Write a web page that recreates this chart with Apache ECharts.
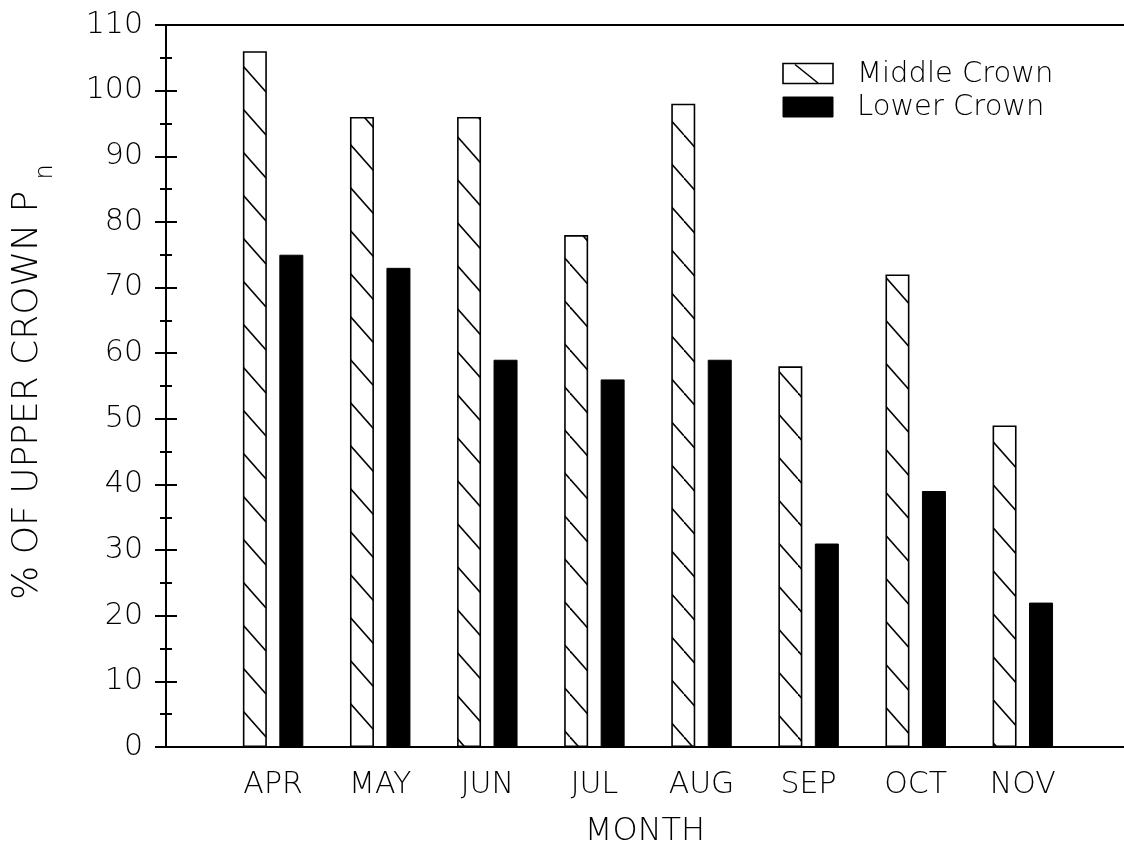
<!DOCTYPE html>
<html>
<head>
<meta charset="utf-8">
<script src="https://cdn.jsdelivr.net/npm/echarts@6/dist/echarts.min.js"></script>
<style>
  html, body { margin: 0; padding: 0; background: #fff; }
  #chart { width: 1124px; height: 853px; }
</style>
</head>
<body>
<div id="chart"></div>
<script>
// Monthly photosynthesis of middle and lower crown, relative to the upper crown
const months = ['APR', 'MAY', 'JUN', 'JUL', 'AUG', 'SEP', 'OCT', 'NOV'];
const middleCrown = [106, 96, 96, 78, 98, 58, 72, 49];
const lowerCrown = [75, 73, 59, 56, 59, 31, 39, 22];
const yMin = 0, yMax = 110, yStep = 10;
const seriesNames = ['Middle Crown', 'Lower Crown'];

const FONT = 'DejaVu Sans';
const INK = '#000';

// Repeating tile with "\" diagonal hatching for the middle crown bars
function hatchTile() {
  const w = 38, h = 43, c = 6;
  const cv = document.createElement('canvas');
  cv.width = w; cv.height = h;
  const ctx = cv.getContext('2d');
  ctx.fillStyle = '#fff';
  ctx.fillRect(0, 0, w, h);
  ctx.strokeStyle = INK;
  ctx.lineWidth = 1.6;
  for (let k = -1; k <= 1; k++) {
    ctx.beginPath();
    ctx.moveTo(0, c + k * h);
    ctx.lineTo(w, c + h + k * h);
    ctx.stroke();
  }
  return cv;
}

const chart = echarts.init(document.getElementById('chart'), null, { renderer: 'canvas' });

const gridLeft = 166, gridRight = 0, gridTop = 25, gridBottom = 105.5;
const slot = 107.1;
const xMax = (1124 - gridLeft - gridRight) / slot;
const positions = months.map((m, i) => i + 1);

function yAxisBase(inside) {
  return {
    type: 'value',
    min: yMin, max: yMax, interval: yStep,
    position: 'left',
    axisLine: { show: !inside, lineStyle: { color: INK, width: 2 } },
    axisTick: { show: true, inside: inside, length: 11, lineStyle: { color: INK, width: 2 } },
    minorTick: { show: true, splitNumber: 2, length: 6, lineStyle: { color: INK, width: 2 } },
    splitLine: { show: false },
    minorSplitLine: { show: false },
    axisLabel: {
      show: !inside, fontSize: 30, fontFamily: FONT, fontWeight: 200,
      color: INK, margin: 23
    }
  };
}

chart.setOption({
  animation: false,
  backgroundColor: '#fff',
  grid: { left: gridLeft, right: gridRight, top: gridTop, bottom: gridBottom },
  xAxis: {
    type: 'value', min: 0, max: xMax,
    axisLine: { show: true, onZero: false, lineStyle: { color: INK, width: 2 } },
    axisTick: { show: false },
    splitLine: { show: false },
    axisLabel: {
      customValues: positions,
      formatter: v => months[Math.round(v) - 1] || '',
      fontSize: 30, fontFamily: FONT, fontWeight: 200, color: INK, margin: 23
    },
    name: 'MONTH',
    nameLocation: 'middle',
    nameGap: 69,
    nameTextStyle: { fontSize: 32, fontFamily: FONT, fontWeight: 200, color: INK }
  },
  yAxis: [yAxisBase(false), yAxisBase(true)],
  series: [
    {
      type: 'bar', name: seriesNames[0], silent: true,
      data: middleCrown.map((v, i) => [positions[i], v]),
      barWidth: 24, barGap: '52%',
      itemStyle: { color: { image: hatchTile(), repeat: 'repeat' }, borderColor: INK, borderWidth: 1.6 },
      emphasis: { disabled: true }
    },
    {
      type: 'bar', name: seriesNames[1], silent: true,
      data: lowerCrown.map((v, i) => [positions[i], v]),
      barWidth: 24, barGap: '52%',
      itemStyle: { color: INK, borderColor: INK, borderWidth: 1 },
      emphasis: { disabled: true }
    }
  ]
});

// Frame lines, y-axis title and legend
const yTopPx = chart.convertToPixel({ yAxisIndex: 0 }, yMax);
const yZeroPx = chart.convertToPixel({ yAxisIndex: 0 }, yMin);
const lineStyle = { stroke: INK, lineWidth: 2 };
const legendText = { fontSize: 29, fontFamily: FONT, fontWeight: 200, fill: INK, verticalAlign: 'middle', align: 'left' };

chart.setOption({
  graphic: [
    { type: 'line', silent: true, shape: { x1: 155, y1: yTopPx, x2: 1124, y2: yTopPx }, style: lineStyle },
    { type: 'line', silent: true, shape: { x1: 155, y1: yZeroPx, x2: gridLeft, y2: yZeroPx }, style: lineStyle },
    {
      type: 'text', silent: true, x: 28, y: 600, rotation: Math.PI / 2,
      style: { text: '% OF UPPER CROWN P', fontSize: 36, fontFamily: FONT, fontWeight: 200, fill: INK, align: 'left', verticalAlign: 'middle' }
    },
    {
      type: 'text', silent: true, x: 46, y: 172, rotation: Math.PI / 2,
      style: { text: 'n', fontSize: 24, fontFamily: FONT, fontWeight: 200, fill: INK, align: 'center', verticalAlign: 'middle' }
    },
    // legend: hatched box
    { type: 'rect', silent: true, shape: { x: 783, y: 63.5, width: 50, height: 20 }, style: { fill: '#fff', stroke: INK, lineWidth: 1.6 } },
    { type: 'line', silent: true, shape: { x1: 795, y1: 64.5, x2: 818, y2: 83 }, style: { stroke: INK, lineWidth: 1.6 } },
    { type: 'text', silent: true, x: 857, y: 74, style: Object.assign({ text: seriesNames[0] }, legendText) },
    // legend: solid box
    { type: 'rect', silent: true, shape: { x: 783, y: 97, width: 50, height: 20 }, style: { fill: INK, stroke: INK, lineWidth: 1 } },
    { type: 'text', silent: true, x: 857, y: 107, style: Object.assign({ text: seriesNames[1] }, legendText) }
  ]
});
</script>
</body>
</html>
